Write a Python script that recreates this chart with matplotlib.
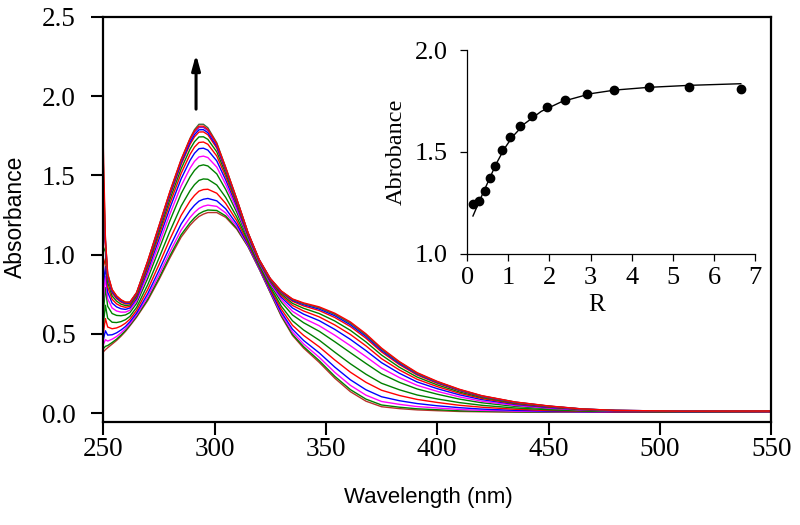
import matplotlib
matplotlib.use("Agg")
import matplotlib.pyplot as plt

plt.rcParams['font.family'] = ['Liberation Serif', 'DejaVu Serif']

# ---------------- data ----------------
wavelength = [250, 251, 252, 254, 256, 258, 260, 262, 265,
              270, 275, 280, 285, 289, 291, 293, 295, 297, 301, 305,
              310, 315, 320, 325, 330, 335, 340, 347, 354,
              361, 368, 375, 383, 391, 400, 410, 420, 435,
              450, 465, 480, 510, 550]

abs_01 = [.385, .40, .412, .435, .458, .485, .515, .55, .605,
          .71, .84, .98, 1.11, 1.185, 1.215, 1.24, 1.255, 1.265, 1.265, 1.235,
          1.16, 1.05, .91, .76, .61, .49, .41, .32, .22,
          .135, .075, .04, .028, .02, .015, .01, .008, .006,
          .005, .005, .005, .006, .008]
abs_02 = [.405, .421, .426, .445, .466, .492, .521, .555, .61,
          .718, .85, .993, 1.125, 1.201, 1.232, 1.257, 1.272, 1.281, 1.278, 1.244,
          1.166, 1.053, .912, .763, .615, .497, .419, .331, .232,
          .148, .088, .051, .037, .027, .021, .014, .011, .008,
          .006, .006, .005, .006, .008]
abs_03 = [.43, .463, .454, .466, .483, .506, .532, .564, .619,
          .733, .871, 1.018, 1.154, 1.234, 1.266, 1.291, 1.305, 1.312, 1.304, 1.263,
          1.177, 1.058, .915, .768, .624, .511, .436, .352, .257,
          .175, .113, .073, .055, .041, .032, .023, .017, .012,
          .009, .007, .006, .007, .008]
abs_04 = [.46, .519, .492, .494, .506, .524, .546, .576, .631,
          .753, .898, 1.051, 1.193, 1.278, 1.311, 1.337, 1.349, 1.354, 1.339, 1.289,
          1.192, 1.065, .92, .775, .637, .529, .458, .38, .29,
          .21, .147, .103, .078, .06, .046, .034, .025, .017,
          .012, .009, .007, .007, .009]
abs_05 = [.50, .596, .543, .532, .537, .549, .567, .592, .648,
          .78, .935, 1.098, 1.247, 1.338, 1.373, 1.40, 1.41, 1.412, 1.387, 1.323,
          1.213, 1.075, .927, .785, .655, .554, .49, .418, .335,
          .258, .194, .144, .111, .086, .067, .049, .037, .024,
          .016, .011, .008, .008, .009]
abs_06 = [.55, .68, .599, .573, .571, .577, .589, .61, .667,
          .81, .976, 1.148, 1.306, 1.403, 1.441, 1.468, 1.477, 1.475, 1.439, 1.361,
          1.236, 1.086, .934, .796, .674, .582, .524, .46, .384,
          .311, .245, .188, .147, .114, .089, .066, .049, .032,
          .021, .013, .010, .008, .01]
abs_07 = [.62, .792, .674, .628, .616, .614, .619, .634, .692,
          .85, 1.03, 1.215, 1.384, 1.49, 1.531, 1.559, 1.566, 1.559, 1.509, 1.411,
          1.266, 1.10, .944, .81, .70, .619, .57, .516, .45,
          .381, .313, .247, .194, .152, .119, .088, .065, .042,
          .027, .017, .012, .009, .011]
abs_08 = [.70, .862, .721, .663, .644, .637, .637, .649, .707,
          .875, 1.064, 1.257, 1.433, 1.545, 1.588, 1.616, 1.621, 1.612, 1.552, 1.443,
          1.285, 1.109, .95, .819, .716, .642, .598, .551, .491,
          .425, .356, .284, .224, .175, .137, .102, .075, .048,
          .031, .019, .013, .01, .011]
abs_09 = [.80, .925, .763, .694, .67, .658, .654, .663, .721,
          .898, 1.095, 1.295, 1.478, 1.594, 1.639, 1.668, 1.671, 1.659, 1.591, 1.471,
          1.303, 1.118, .955, .828, .73, .663, .624, .583, .528,
          .465, .394, .318, .251, .196, .154, .115, .085, .054,
          .035, .021, .014, .01, .012]
abs_10 = [.92, .974, .796, .718, .689, .674, .667, .673, .732,
          .915, 1.119, 1.324, 1.512, 1.632, 1.678, 1.707, 1.71, 1.696, 1.622, 1.493,
          1.316, 1.124, .959, .834, .741, .679, .644, .607, .556,
          .496, .424, .343, .272, .213, .167, .125, .092, .058,
          .038, .022, .015, .011, .012]
abs_11 = [1.05, 1.016, .824, .739, .706, .687, .678, .682, .741,
          .93, 1.139, 1.35, 1.541, 1.665, 1.712, 1.742, 1.743, 1.727, 1.648, 1.512,
          1.327, 1.129, .963, .839, .751, .692, .661, .628, .581,
          .522, .449, .366, .289, .227, .178, .133, .098, .062,
          .04, .023, .016, .011, .012]
abs_12 = [1.20, 1.055, .85, .758, .722, .70, .688, .69, .75,
          .944, 1.158, 1.373, 1.568, 1.695, 1.743, 1.773, 1.774, 1.756, 1.672, 1.53,
          1.338, 1.134, .966, .844, .76, .705, .676, .647, .603,
          .546, .472, .386, .306, .24, .188, .141, .103, .066,
          .042, .025, .016, .012, .013]
abs_13 = [1.35, 1.072, .861, .766, .729, .706, .693, .694, .754,
          .95, 1.166, 1.383, 1.58, 1.708, 1.757, 1.787, 1.788, 1.769, 1.683, 1.537,
          1.342, 1.136, .968, .846, .764, .711, .684, .656, .614,
          .557, .483, .395, .313, .246, .193, .144, .106, .067,
          .043, .025, .017, .012, .013]
abs_14 = [1.50, 1.09, .873, .775, .736, .712, .697, .698, .758,
          .956, 1.175, 1.394, 1.593, 1.722, 1.772, 1.801, 1.802, 1.782, 1.693, 1.545,
          1.347, 1.139, .969, .849, .768, .717, .691, .665, .624,
          .568, .494, .404, .321, .251, .197, .148, .108, .069,
          .044, .026, .017, .012, .013]
abs_15 = [1.60, 1.093, .876, .777, .737, .713, .698, .699, .759,
          .958, 1.177, 1.396, 1.597, 1.733, 1.788, 1.822, 1.822, 1.80, 1.705, 1.55,
          1.349, 1.139, .969, .849, .768, .717, .69, .664, .623,
          .567, .492, .403, .32, .25, .197, .147, .108, .069,
          .044, .026, .017, .012, .013]
abs_16 = [1.70, 1.10, .88, .78, .74, .715, .70, .70, .76,
          .96, 1.18, 1.40, 1.60, 1.73, 1.78, 1.81, 1.81, 1.79, 1.70, 1.55,
          1.35, 1.14, .97, .85, .77, .72, .695, .67, .63,
          .575, .50, .41, .325, .255, .20, .15, .11, .07,
          .045, .026, .017, .012, .013]

spectra = [abs_01, abs_02, abs_03, abs_04, abs_05, abs_06, abs_07, abs_08,
           abs_09, abs_10, abs_11, abs_12, abs_13, abs_14, abs_15, abs_16]
curve_colors = ['#b8322a', '#008000', '#ff00ff', '#0000ff', '#ff0000', '#008000', '#008000', '#ff00ff',
                '#0000ff', '#ff0000', '#008000', '#ff0000', '#0000ff', '#7a1fd6', '#3f6b3f', '#ff0000']

# inset titration data
ratio_R = [0.14, 0.29, 0.44, 0.56, 0.68, 0.84, 1.03, 1.28, 1.57, 1.93, 2.37, 2.92, 3.58, 4.41, 5.40, 6.65]
inset_abs = [1.242, 1.258, 1.31, 1.37, 1.433, 1.508, 1.575, 1.63, 1.677, 1.72, 1.758, 1.787, 1.807, 1.818, 1.82, 1.812]
fit_R = [0.14, 0.30, 0.50, 0.70, 0.90, 1.10, 1.40, 1.80, 2.30, 3.00, 3.60, 4.40, 5.40, 6.65]
fit_abs = [1.185, 1.26, 1.35, 1.44, 1.515, 1.575, 1.64, 1.70, 1.748, 1.787, 1.805, 1.818, 1.828, 1.836]

main_yticks = [0.0, 0.5, 1.0, 1.5, 2.0, 2.5]
main_xticks = [250, 300, 350, 400, 450, 500, 550]
inset_xticks = [0, 1, 2, 3, 4, 5, 6, 7]
inset_yticks = [1.0, 1.5, 2.0]

# ---------------- figure ----------------
sans = ['Liberation Sans', 'DejaVu Sans']

fig = plt.figure(figsize=(8.0, 5.25), dpi=100)
ax = fig.add_axes([0.129, 0.196, 0.835, 0.772])

for y, c in zip(spectra, curve_colors):
    ax.plot(wavelength, y, color=c, lw=1.0, solid_joinstyle='round')

ax.set_xlim(250, 550)
ax.set_ylim(-0.057, 2.5)
ax.set_xticks(main_xticks)
ax.set_yticks(main_yticks)
ax.set_xticklabels([str(v) for v in main_xticks])
ax.set_yticklabels(['%.1f' % v for v in main_yticks])
ax.tick_params(direction='out', length=9, width=1.5, labelsize=19.5)
ax.tick_params(axis='x', pad=2)
ax.tick_params(axis='y', pad=11)
for s in ax.spines.values():
    s.set_linewidth(1.6)

fig.text(0.019, 0.587, 'Absorbance', rotation=90, ha='center', va='center',
         fontfamily=sans, fontsize=16.5)
fig.text(0.535, 0.053, 'Wavelength (nm)', ha='center', va='center',
         fontfamily=sans, fontsize=16)

ax.annotate('', xy=(291.7, 2.28), xytext=(291.7, 1.90),
            arrowprops=dict(arrowstyle='-|>,head_length=0.9,head_width=0.25',
                            color='black', lw=2.2))

# ---------------- inset ----------------
ins = fig.add_axes([0.584, 0.517, 0.36, 0.387])
ins.patch.set_alpha(0)
ins.plot(fit_R, fit_abs, color='black', lw=1.0)
ins.plot(ratio_R, inset_abs, 'o', color='black', ms=6)
ins.set_xlim(0, 7)
ins.set_ylim(1.0, 2.0)
ins.set_xticks(inset_xticks)
ins.set_yticks(inset_yticks)
ins.set_xticklabels([str(v) for v in inset_xticks])
ins.set_yticklabels(['%.1f' % v for v in inset_yticks])
ins.spines['top'].set_visible(False)
ins.spines['right'].set_visible(False)
for s in ['left', 'bottom']:
    ins.spines[s].set_linewidth(0.9)
ins.tick_params(direction='out', length=5, width=0.9, labelsize=19)
ins.tick_params(axis='x', pad=5)
ins.tick_params(axis='y', pad=9)
ins.text(0.45, -0.255, 'R', transform=ins.transAxes, ha='center', va='center', fontsize=18)
ins.text(-0.245, 0.50, 'Abrobance', transform=ins.transAxes, rotation=90,
         ha='center', va='center', fontsize=17.5)

fig.savefig('out.png', dpi=100)
